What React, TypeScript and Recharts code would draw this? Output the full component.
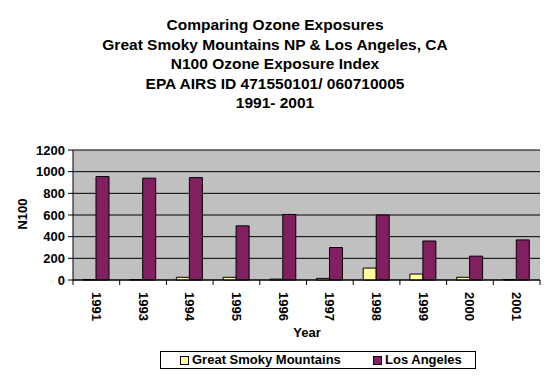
import React from 'react';
import { BarChart, Bar, XAxis, YAxis, CartesianGrid, Legend } from 'recharts';

const years = ['1991', '1993', '1994', '1995', '1996', '1997', '1998', '1999', '2000', '2001'];
const smoky = [4, 4, 25, 25, 8, 15, 110, 55, 25, 4];
const losAngeles = [955, 940, 945, 500, 605, 300, 600, 360, 220, 370];
const yTicks = [0, 200, 400, 600, 800, 1000, 1200];
const titleLines = [
  'Comparing Ozone Exposures',
  'Great Smoky Mountains NP & Los Angeles, CA',
  'N100 Ozone Exposure Index',
  'EPA AIRS ID 471550101/ 060710005',
  '1991- 2001',
];
const seriesNames = ['Great Smoky Mountains', 'Los Angeles'];

const data = years.map((y, i) => ({ year: y, gsm: smoky[i], la: losAngeles[i] }));

const FONT = '"Liberation Sans", Arial, sans-serif';
const W = 550;
const H = 376;
const LEFT = 73;
const RIGHT = 10;
const BAND = (W - LEFT - RIGHT) / years.length;
const GSM_COLOR = '#FFFF99';
const LA_COLOR = '#821F60';

const XTick = (props: any) => {
  const { x, y, payload, index } = props;
  return (
    <g>
      <line x1={x + BAND / 2} y1={y} x2={x + BAND / 2} y2={y + 5} stroke="#000" />
      {index === 0 && <line x1={x - BAND / 2} y1={y} x2={x - BAND / 2} y2={y + 5} stroke="#000" />}
      <text
        transform={`translate(${x},${y + 12}) rotate(90)`}
        textAnchor="start"
        dominantBaseline="central"
        fontFamily={FONT}
        fontWeight="bold"
        fontSize={13}
        fill="#000"
      >
        {payload.value}
      </text>
    </g>
  );
};

const LegendBox = () => (
  <div
    style={{
      position: 'relative',
      width: 316,
      height: 18,
      boxSizing: 'border-box',
      border: '1px solid #000',
      background: '#fff',
      fontFamily: FONT,
      fontWeight: 'bold',
      fontSize: 13,
      color: '#000',
    }}
  >
    {[GSM_COLOR, LA_COLOR].map((c, i) => (
      <div
        key={i}
        style={{
          position: 'absolute',
          left: i === 0 ? 19 : 212,
          top: 0,
          height: 16,
          display: 'flex',
          alignItems: 'center',
          whiteSpace: 'nowrap',
        }}
      >
        <span
          style={{
            display: 'inline-block',
            width: 7,
            height: 7,
            background: c,
            border: '1px solid #000',
            marginRight: 3,
          }}
        />
        <span style={{ lineHeight: '16px' }}>{seriesNames[i]}</span>
      </div>
    ))}
  </div>
);

export default function App() {
  return (
    <div style={{ position: 'absolute', left: 0, top: 0, width: W, height: H, background: '#fff' }}>
      <BarChart
        width={W}
        height={H}
        data={data}
        margin={{ top: 150, right: RIGHT, left: 0, bottom: 7 }}
        barCategoryGap="21.4%"
        barGap={0}
      >
        <CartesianGrid vertical={false} stroke="#000" fill="#C0C0C0" fillOpacity={1} />
        <XAxis
          dataKey="year"
          height={71}
          interval={0}
          tickSize={0}
          tickMargin={0}
          tickLine={false}
          axisLine={{ stroke: '#000' }}
          tick={<XTick />}
        />
        <YAxis
          width={LEFT}
          domain={[0, 1200]}
          ticks={yTicks}
          interval={0}
          tickSize={5}
          tickMargin={3}
          tickLine={{ stroke: '#000' }}
          axisLine={{ stroke: '#000' }}
          tick={{ fill: '#000', fontFamily: FONT, fontWeight: 'bold', fontSize: 13 }}
        />
        <YAxis
          yAxisId="r"
          orientation="right"
          width={0}
          tick={false}
          tickLine={false}
          axisLine={{ stroke: '#808080' }}
        />
        <Legend
          verticalAlign="bottom"
          content={() => <LegendBox />}
          wrapperStyle={{ left: 160, width: 316, bottom: 7, height: 18 }}
        />
        <Bar dataKey="gsm" name={seriesNames[0]} fill={GSM_COLOR} stroke="#000" strokeWidth={1} isAnimationActive={false} />
        <Bar dataKey="la" name={seriesNames[1]} fill={LA_COLOR} stroke="#000" strokeWidth={1} isAnimationActive={false} />
        {titleLines.map((t, i) => (
          <text
            key={i}
            x={W / 2}
            y={30 + i * 19.5}
            textAnchor="middle"
            fontFamily={FONT}
            fontWeight="bold"
            fontSize={15.5}
            fill="#000"
          >
            {t}
          </text>
        ))}
        <text x={307} y={337} textAnchor="middle" fontFamily={FONT} fontWeight="bold" fontSize={13} fill="#000">
          Year
        </text>
        <text
          transform="translate(22,214) rotate(-90)"
          textAnchor="middle"
          dominantBaseline="central"
          fontFamily={FONT}
          fontWeight="bold"
          fontSize={13}
          fill="#000"
        >
          N100
        </text>
      </BarChart>
    </div>
  );
}
